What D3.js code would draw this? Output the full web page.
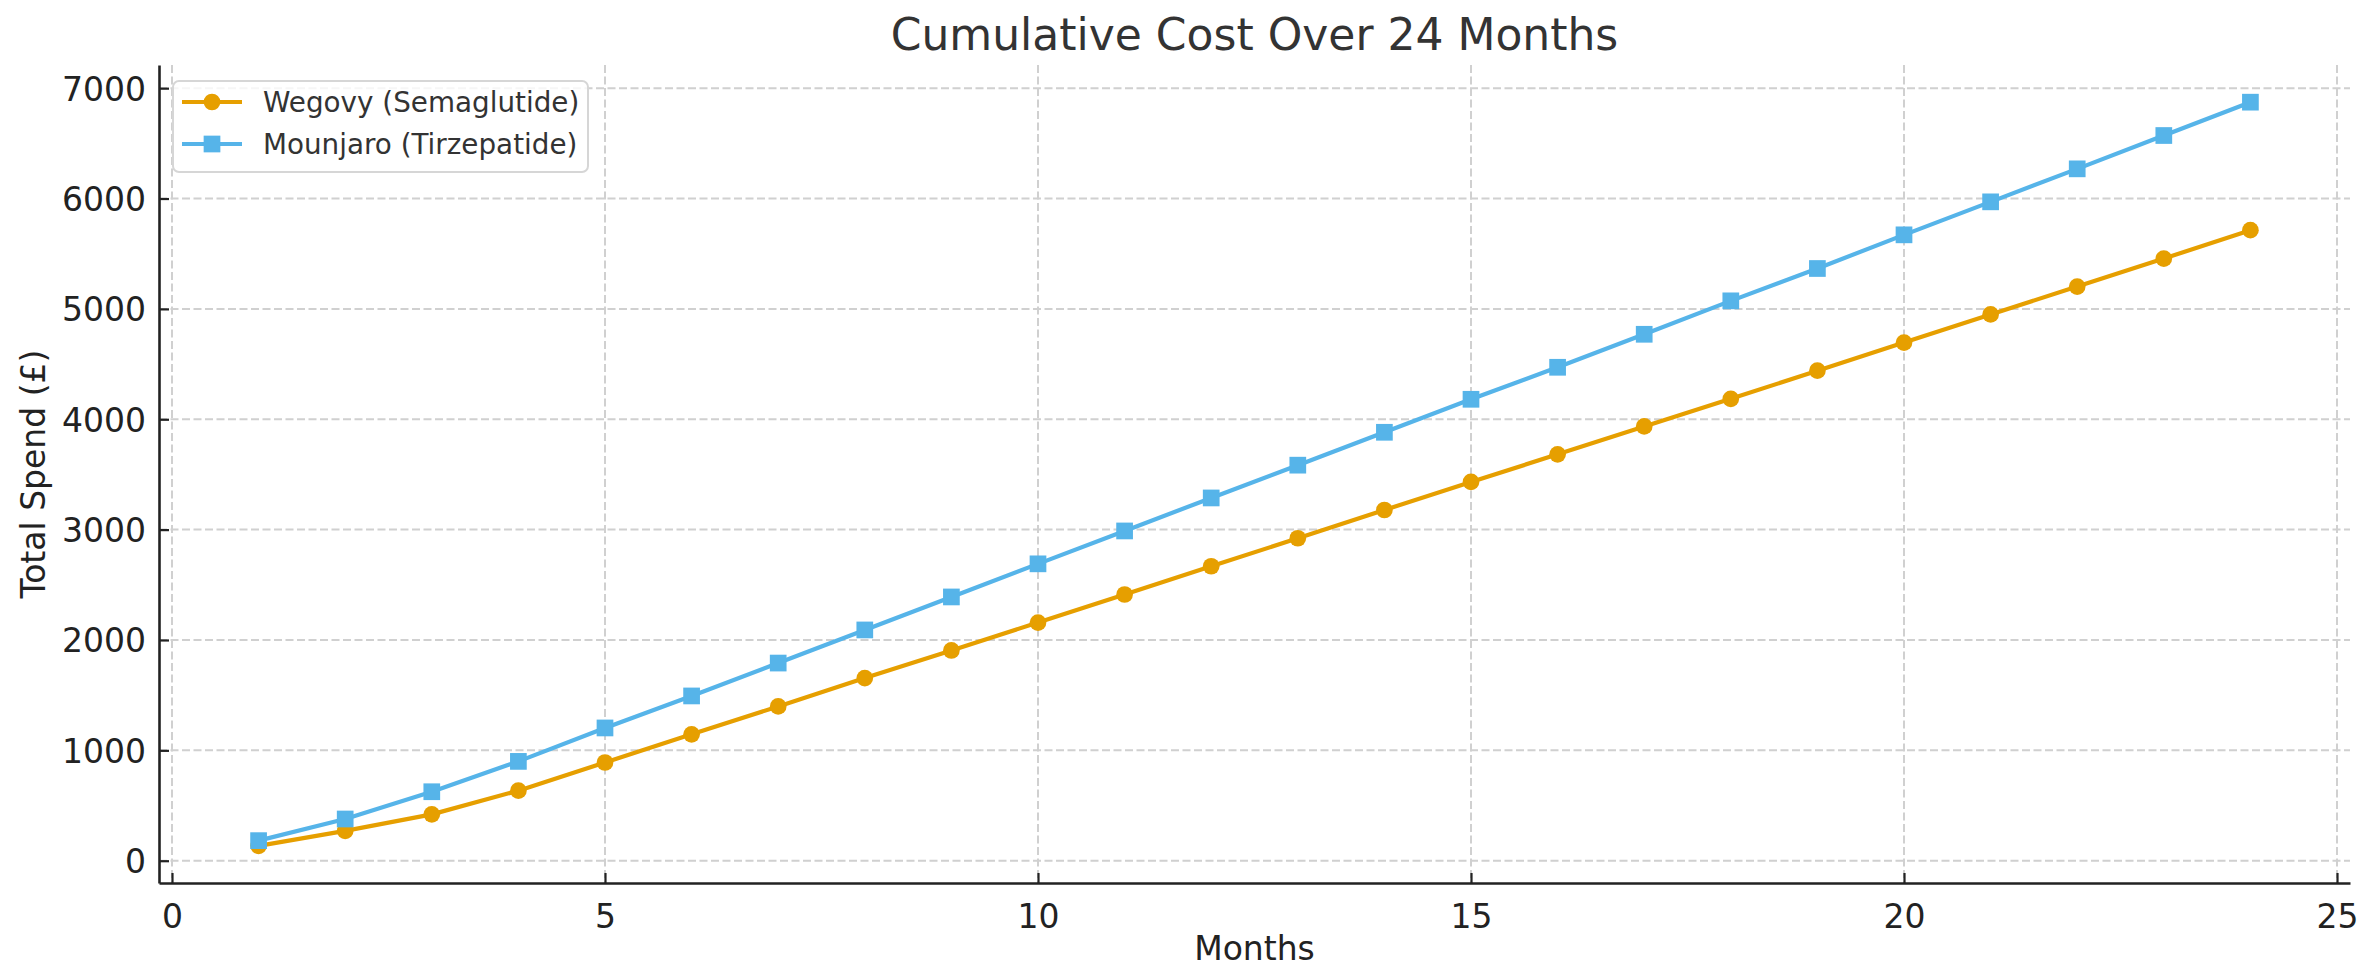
<!DOCTYPE html>
<html>
<head>
<meta charset="utf-8">
<script src="https://cdn.jsdelivr.net/npm/d3@7"></script>
<style>
  body { margin: 0; background: #fff; }
  svg text { font-family: "DejaVu Sans", sans-serif; }
</style>
</head>
<body>
<div id="chart"></div>
<script>
// data
var months = [1, 2, 3, 4, 5, 6, 7, 8, 9, 10, 11, 12, 13, 14, 15, 16, 17, 18, 19, 20, 21, 22, 23, 24];
var wegovy = [135, 270, 420, 635, 890, 1145, 1398, 1655, 1905, 2158, 2412, 2668,
              2922, 3178, 3432, 3682, 3935, 4185, 4440, 4695, 4950, 5202, 5456, 5713];
var mounjaro = [182, 378, 625, 900, 1203, 1493, 1791, 2091, 2390, 2690, 2988, 3287,
                3584, 3882, 4181, 4471, 4770, 5073, 5366, 5671, 5970, 6269, 6571, 6873];
var seriesNames = ['Wegovy (Semaglutide)', 'Mounjaro (Tirzepatide)'];
var xTicks = [0, 5, 10, 15, 20, 25];
var yTicks = [0, 1000, 2000, 3000, 4000, 5000, 6000, 7000];

var W = 2371, H = 971,
    margin = { top: 65, right: 21, bottom: 88, left: 159 },
    width = W - margin.left - margin.right,
    height = H - margin.top - margin.bottom;

var colors = ['#E69F00', '#56B4E9'];
var series = [
  { name: seriesNames[0], values: wegovy, color: colors[0], shape: 'circle' },
  { name: seriesNames[1], values: mounjaro, color: colors[1], shape: 'square' }
];

// matplotlib style 5% padding around the data
function padded(lo, hi) {
  var p = (hi - lo) * 0.05;
  return [lo - p, hi + p];
}
var allY = wegovy.concat(mounjaro);

var x = d3.scaleLinear()
          .domain(padded(d3.min(months), d3.max(months)))
          .range([0, width]);
var y = d3.scaleLinear()
          .domain(padded(d3.min(allY), d3.max(allY)))
          .range([height, 0]);

var svg = d3.select('#chart')
            .append('svg')
              .attr('width', W)
              .attr('height', H);
var g = svg.append('g')
           .attr('transform', 'translate(' + margin.left + ',' + margin.top + ')');

// grid
var grid = g.append('g').attr('class', 'grid');
grid.selectAll('.gx')
    .data(xTicks)
    .enter().append('line')
      .attr('x1', function(d) { return x(d); })
      .attr('x2', function(d) { return x(d); })
      .attr('y1', 0).attr('y2', height);
grid.selectAll('.gy')
    .data(yTicks)
    .enter().append('line')
      .attr('y1', function(d) { return y(d); })
      .attr('y2', function(d) { return y(d); })
      .attr('x1', 0).attr('x2', width);
grid.selectAll('line')
    .attr('stroke', '#d0d0d0')
    .attr('stroke-width', 2)
    .attr('stroke-dasharray', '8,3.5');

// axes, ticks pointing inward
var xAxis = d3.axisBottom(x).tickValues(xTicks).tickFormat(d3.format('d'))
              .tickSizeInner(-10).tickSizeOuter(0).tickPadding(14);
var yAxis = d3.axisLeft(y).tickValues(yTicks).tickFormat(d3.format('d'))
              .tickSizeInner(-10).tickSizeOuter(0).tickPadding(13);

var gx = g.append('g')
          .attr('transform', 'translate(0,' + height + ')')
          .call(xAxis);
var gy = g.append('g').call(yAxis);

[gx, gy].forEach(function(ax) {
  ax.select('.domain').attr('stroke', '#222').attr('stroke-width', 2.6);
  ax.selectAll('.tick line').attr('stroke', '#222').attr('stroke-width', 2.2);
  ax.selectAll('.tick text')
    .attr('fill', '#222')
    .style('font-size', '33px');
});
gx.selectAll('.tick text').attr('dy', '0.95em');
gy.selectAll('.tick text').attr('dy', '0.36em');

// lines and markers
var line = d3.line()
             .x(function(d, i) { return x(months[i]); })
             .y(function(d) { return y(d); });

var mSize = 16.7;
series.forEach(function(s) {
  var sg = g.append('g');
  sg.append('path')
    .datum(s.values)
    .attr('d', line)
    .attr('fill', 'none')
    .attr('stroke', s.color)
    .attr('stroke-width', 4.2)
    .attr('stroke-linejoin', 'round');
  if (s.shape === 'circle') {
    sg.selectAll('circle')
      .data(s.values)
      .enter().append('circle')
        .attr('cx', function(d, i) { return x(months[i]); })
        .attr('cy', function(d) { return y(d); })
        .attr('r', mSize / 2)
        .attr('fill', s.color);
  } else {
    sg.selectAll('rect')
      .data(s.values)
      .enter().append('rect')
        .attr('x', function(d, i) { return x(months[i]) - mSize / 2; })
        .attr('y', function(d) { return y(d) - mSize / 2; })
        .attr('width', mSize)
        .attr('height', mSize)
        .attr('fill', s.color);
  }
});

// title and axis labels
svg.append('text')
   .attr('x', margin.left + width / 2)
   .attr('y', 50)
   .attr('text-anchor', 'middle')
   .attr('fill', '#333')
   .style('font-size', '44px')
   .text('Cumulative Cost Over 24 Months');

svg.append('text')
   .attr('x', margin.left + width / 2)
   .attr('y', 960)
   .attr('text-anchor', 'middle')
   .attr('fill', '#222')
   .style('font-size', '33px')
   .text('Months');

svg.append('text')
   .attr('transform', 'translate(45,' + (margin.top + height / 2) + ') rotate(-90)')
   .attr('text-anchor', 'middle')
   .attr('fill', '#222')
   .style('font-size', '33px')
   .text('Total Spend (£)');

// legend
var lg = svg.append('g').attr('transform', 'translate(173,81)');
lg.append('rect')
  .attr('width', 415)
  .attr('height', 91)
  .attr('rx', 6)
  .attr('fill', 'rgba(255,255,255,0.8)')
  .attr('stroke', '#d6d6d6')
  .attr('stroke-width', 2);

var key = lg.selectAll('.legend-key')
            .data(series)
            .enter().append('g')
              .attr('class', 'legend-key')
              .attr('transform', function(d, i) { return 'translate(0,' + (21 + i * 42) + ')'; });
key.append('line')
   .attr('x1', 9).attr('x2', 69)
   .attr('stroke', function(d) { return d.color; })
   .attr('stroke-width', 4.2);
key.each(function(d) {
  var k = d3.select(this);
  if (d.shape === 'circle') {
    k.append('circle').attr('cx', 39).attr('r', mSize / 2).attr('fill', d.color);
  } else {
    k.append('rect').attr('x', 39 - mSize / 2).attr('y', -mSize / 2)
     .attr('width', mSize).attr('height', mSize).attr('fill', d.color);
  }
});
key.append('text')
   .attr('x', 90)
   .attr('dy', '0.36em')
   .attr('fill', '#333')
   .style('font-size', '27.8px')
   .text(function(d) { return d.name; });
</script>
</body>
</html>
